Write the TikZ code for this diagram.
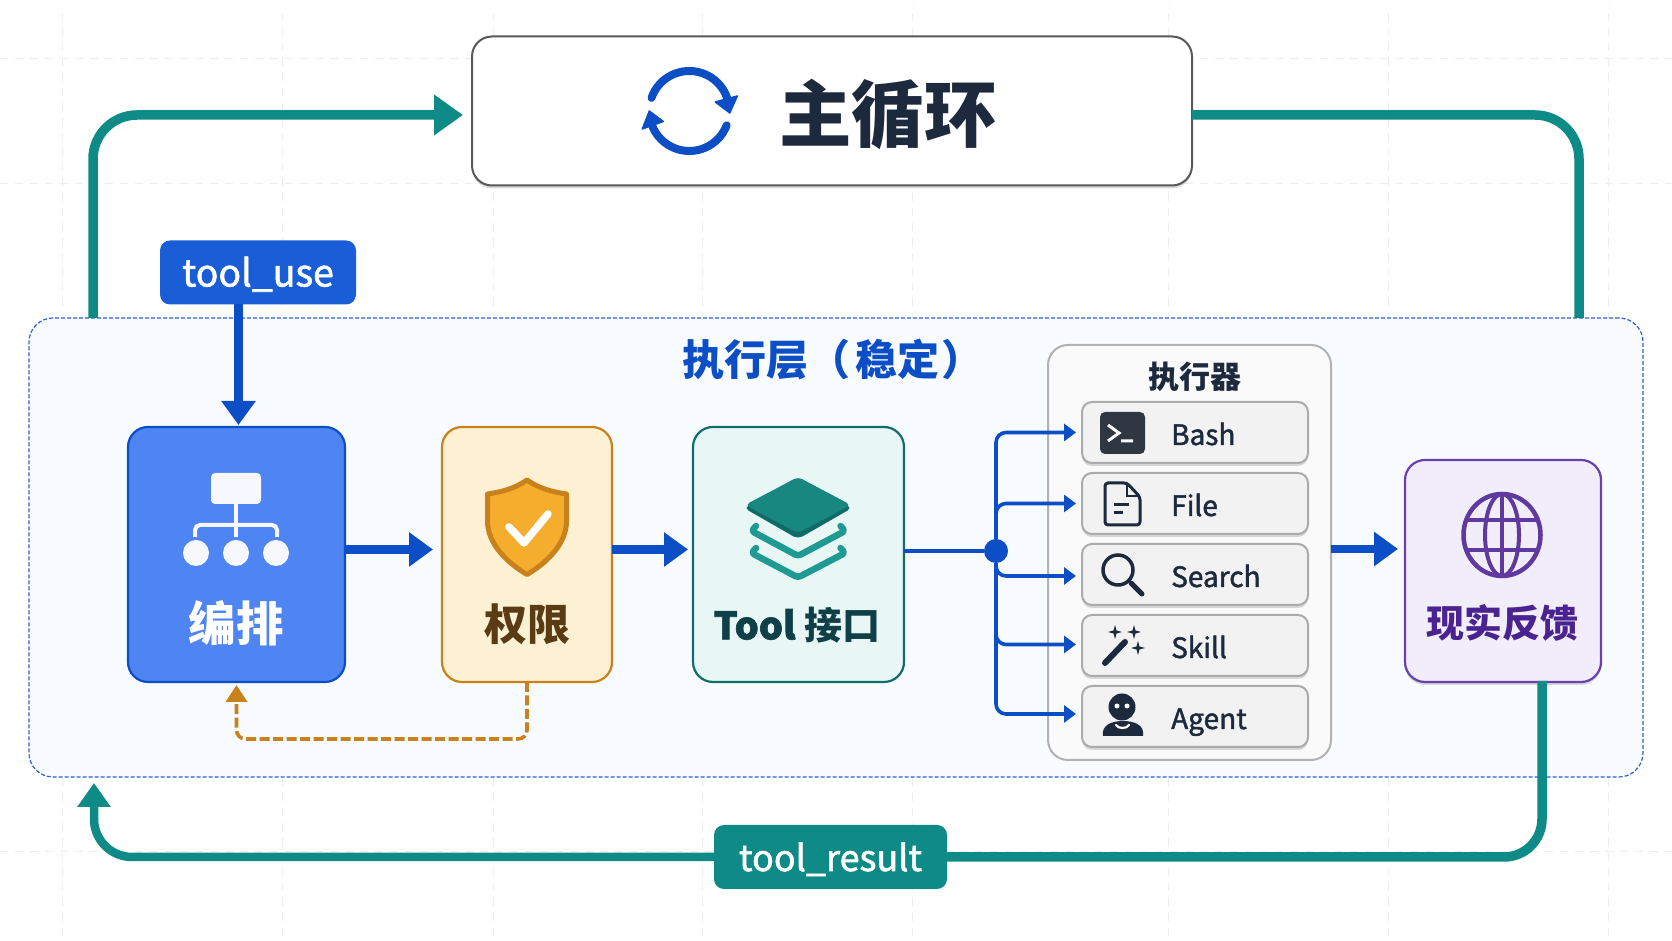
\documentclass[tikz,border=0pt]{standalone}
\usepackage{fontspec}
\setmainfont{Noto Sans CJK SC}
\newfontfamily\medfont[FakeBold=1.6]{Noto Sans CJK SC}
\usetikzlibrary{shapes,arrows,arrows.meta,fit,calc,positioning,shadows}
\usetikzlibrary{backgrounds}
\definecolor{bluedark}{HTML}{0B4EC6}
\definecolor{bluefill}{HTML}{4F84F3}
\definecolor{bluetag}{HTML}{195ED6}
\definecolor{layerline}{HTML}{2F5FD8}
\definecolor{layerfill}{HTML}{F8FBFF}
\definecolor{amber}{HTML}{C8811B}
\definecolor{amberfill}{HTML}{FDF0D3}
\definecolor{amberlight}{HTML}{F5AD2E}
\definecolor{brown}{HTML}{5A3C14}
\definecolor{teal}{HTML}{0F8B87}
\definecolor{tealdark}{HTML}{0F6E6C}
\definecolor{tealfill}{HTML}{E8F7F5}
\definecolor{tealink}{HTML}{0F3F47}
\definecolor{tealface}{HTML}{17877F}
\definecolor{tealside}{HTML}{0E6B68}
\definecolor{tealchev}{HTML}{1F9A92}
\definecolor{purple}{HTML}{6B3FB2}
\definecolor{purplefill}{HTML}{F2EDFB}
\definecolor{purpleink}{HTML}{4A2390}
\definecolor{ink}{HTML}{1D2A3E}
\definecolor{slate}{HTML}{2F3743}
\tikzstyle{soft} = [drop shadow={shadow xshift=0pt, shadow yshift=-3pt, opacity=.14, fill=black}]
\tikzstyle{box} = [draw, rectangle, rounded corners=20pt, line width=2.2pt, outer sep=0pt, minimum height=255pt, align=center]
\tikzstyle{tag} = [rectangle, rounded corners=10pt, outer sep=0pt, text=white, minimum height=64pt, text height=30pt, text depth=2pt]
\tikzstyle{item} = [draw=black!33, fill=black!5, rectangle, rounded corners=10pt, line width=2pt, outer sep=0pt, minimum width=226pt, minimum height=61pt, soft]
\tikzstyle{itemtext} = [inner sep=0pt, anchor=base west, text=ink, font=\medfont\fontsize{28}{34}\selectfont]
\tikzstyle{bigline} = [draw=bluedark, line width=8.5pt, -{Triangle[length=24pt,width=33pt]}]
\tikzstyle{busline} = [draw=bluedark, line width=3.6pt, rounded corners=10pt, -{Triangle[length=12pt,width=17pt]}, shorten >=6pt]
\tikzstyle{loopline} = [draw=teal, line width=9.5pt, rounded corners=44pt]
\tikzstyle{backline} = [draw=amber, line width=3.6pt, rounded corners=9pt, dash pattern=on 10pt off 3.5pt, -{Triangle[length=17pt,width=21pt]}]
\tikzstyle{gridline} = [draw=black!7, line width=.8pt, dash pattern=on 8pt off 7pt]
\begin{document}
\begin{tikzpicture}[x=1pt,y=1pt]
    \useasboundingbox (0,0) rectangle (1672,941);
    \fill[white] (0,0) rectangle (1672,941);
    \foreach \gx in {62,282,493,702,912,1168,1388,1608}
        \path [gridline] (\gx,5) -- (\gx,936);
    \foreach \gy in {883,758,90}
        \path [gridline] (0,\gy) -- (1672,\gy);

    \node [draw=black!65, fill=white, rectangle, rounded corners=20pt, line width=2pt, outer sep=0pt, minimum width=720pt, minimum height=149pt, soft] (main) at (832,830) {};
    \node [text=ink, font=\bfseries\fontsize{72.5}{80}\selectfont, inner sep=0pt] (main_label) at (888,827) {主循环};

    \node [draw=layerline, fill=layerfill, rectangle, rounded corners=24pt, line width=1.2pt, dash pattern=on 4pt off 2pt, outer sep=0pt, minimum width=1614pt, minimum height=459pt] (layer) at (836,393.5) {};
    \node [text=bluedark, font=\bfseries\fontsize{42}{50}\selectfont, inner sep=0pt] (layer_label) at (833,581) {执行层（\kern6pt 稳定\kern2pt）};

    \node [tag, fill=bluetag, minimum width=196pt, font=\medfont\fontsize{37.5}{44}\selectfont] (use) at (258,668.5) {tool\_use};
    \node [tag, fill=teal, minimum width=233pt, font=\medfont\fontsize{36}{44}\selectfont] (result) at (830.5,84) {tool\_result};

    \node [box, draw=bluedark, fill=bluefill, minimum width=217pt] (orch) at (236.5,386.5) {};
    \node [box, draw=amber, fill=amberfill, minimum width=170pt, right=97pt of orch] (perm) {};
    \node [box, draw=tealdark, fill=tealfill, minimum width=211pt, right=81pt of perm] (tool) {};
    \node [draw=black!30, fill=black!2, rectangle, rounded corners=20pt, line width=2pt, outer sep=0pt, minimum width=283pt, minimum height=415pt] (panel) at (1189.5,388.5) {};
    \node [box, draw=purple, fill=purplefill, minimum width=196pt, minimum height=222pt, right=74pt of panel, yshift=-18.5pt, soft] (real) {};

    \node [text=white, font=\bfseries\fontsize{47.5}{54}\selectfont, inner sep=0pt] (orch_label) at (236,318) {编排};
    \node [text=brown, font=\bfseries\fontsize{43}{52}\selectfont, inner sep=0pt] (perm_label) at (527,317) {权限};
    \node [text=tealink, font=\bfseries\fontsize{38}{46}\selectfont, inner sep=0pt] (tool_label) at (797,316) {{\medfont Tool} 接口};
    \node [text=purpleink, font=\bfseries\fontsize{38}{46}\selectfont, inner sep=0pt] (real_label) at (1502,318) {现实反馈};
    \node [text=ink, font=\bfseries\fontsize{31}{38}\selectfont, inner sep=0pt] (panel_label) at (1195,564) {执行器};

    \node [item] (bash) at (1195,508.5) {};
    \node [item, below=10pt of bash] (file) {};
    \node [item, below=10pt of file] (search) {};
    \node [item, below=10pt of search] (skill) {};
    \node [item, below=10pt of skill] (agent) {};
    \node [itemtext] (bash_label) at ([xshift=89pt,yshift=-12.5pt]bash.west) {Bash};
    \node [itemtext] (file_label) at ([xshift=89pt,yshift=-12.5pt]file.west) {File};
    \node [itemtext] (search_label) at ([xshift=89pt,yshift=-12.5pt]search.west) {Search};
    \node [itemtext] (skill_label) at ([xshift=89pt,yshift=-12.5pt]skill.west) {Skill};
    \node [itemtext] (agent_label) at ([xshift=89pt,yshift=-12.5pt]agent.west) {Agent};

    \node [circle, fill=bluedark, minimum size=24pt, inner sep=0pt] (hub) at (996,390) {};
    \coordinate (loop_out) at (93,623);
    \coordinate (loop_in) at (1579,623);
    \coordinate (res_out) at (1542,260);
    \coordinate (res_in) at (94,158);

    % teal loop
    \path [loopline, -{Triangle[length=29pt,width=39pt]}, shorten >=9pt] (loop_out) |- ([yshift=-4pt]main.west);
    \path [loopline] ([yshift=-4pt]main.east) -| (loop_in);
    \path [loopline, rounded corners=38pt] (res_out) |- (result.east);
    \path [loopline, rounded corners=38pt, line width=8.5pt, -{Triangle[length=24pt,width=32pt]}] (result.west) -| (res_in);

    % blue flow
    \path [bigline, shorten >=2pt] ([xshift=2pt]use.south -| orch.north) -- ([xshift=2pt]orch.north);
    \path [bigline, shorten >=9pt] ([yshift=5pt]orch.east) -- ([yshift=5pt]perm.west);
    \path [bigline, shorten >=5pt] ([yshift=5pt]perm.east) -- ([yshift=5pt]tool.west);
    \path [bigline, shorten >=7pt] ([yshift=3.5pt]panel.east) -- ([yshift=3.5pt]panel.east -| real.west);
    \draw [bluedark, line width=3.6pt] ([yshift=3.5pt]tool.east) -- (hub);
    \path [busline] (hub) |- (bash.west);
    \path [busline] (hub) |- (file.west);
    \path [busline] (hub) |- ([yshift=-1.5pt]search.west);
    \path [busline] (hub) |- ([yshift=1pt]skill.west);
    \path [busline] (hub) |- ([yshift=2.5pt]agent.west);
    \path [backline, shorten >=3pt] (perm.south) -- ++(0,-57) -| (orch.south);

    % sync icon
    \begin{scope}[shift={(689.3,830)}]
        \draw [bluedark, line width=8pt, line cap=round] (161:40) arc (161:18:40);
        \draw [bluedark, line width=8pt, line cap=round] (-21:40) arc (-21:-159:40);
        \fill [bluedark, draw=bluedark, line width=1.5pt, line join=round] (48,15) -- (26,9) -- (40.5,-2) -- cycle;
        \fill [bluedark, draw=bluedark, line width=1.5pt, line join=round] (-40,0) -- (-26,-10.5) -- (-47,-18) -- cycle;
    \end{scope}
    % orchestration icon
    \fill [blue!3, rounded corners=4pt] (211,437) rectangle (261,468);
    \draw [blue!3, line width=4pt, rounded corners=5pt] (195,404) -- (195,416) -- (277,416) -- (277,404);
    \draw [blue!3, line width=4pt] (236,437) -- (236,404);
    \foreach \cx in {196,236,276}
        \fill [blue!3] (\cx,388) circle (13);
    % shield icon
    \draw [amber, fill=amberlight, line width=5pt, line join=round] (527,461) .. controls (540,452) and (553,449) .. (566.5,447) -- (566.5,420) .. controls (566.5,396) and (545,377) .. (527,366.5) .. controls (509,377) and (487.5,396) .. (487.5,420) -- (487.5,447) .. controls (501,449) and (514,452) .. (527,461) -- cycle;
    \draw [white, line width=7.5pt, line cap=round, line join=round] (509,414) -- (524,398) -- (548,427);
    % layers icon
    \fill [tealside, rounded corners=5pt] (798,464) -- (852,433) -- (798,402) -- (744,433) -- cycle;
    \fill [tealface, rounded corners=5pt] (798,464) -- (851,436) -- (798,408) -- (745,436) -- cycle;
    \draw [tealchev, line width=6.5pt, line cap=round, line join=round, rounded corners=3pt] (756,415) -- (751.5,410) -- (798,385) -- (845,410) -- (840.5,415);
    \draw [tealchev, line width=6.5pt, line cap=round, line join=round, rounded corners=3pt] (756,393) -- (751.5,388) -- (798,363.5) -- (845,388) -- (840.5,393);
    % globe icon
    \begin{scope}[shift={(1502,406)}]
        \draw [purple!90!black, line width=4.5pt] (0,0) ellipse (38.5 and 41);
        \draw [purple!90!black, line width=4pt] (0,0) ellipse (17 and 41);
        \draw [purple!90!black, line width=4pt] (0,-41) -- (0,41) (-36,15) -- (36,15) (-36,-15) -- (36,-15);
    \end{scope}
    % terminal icon
    \fill [slate, rounded corners=5pt] (1100,487) rectangle (1145,529);
    \draw [white, line width=3pt] (1108,516) -- (1119,508) -- (1108,500) (1121,500) -- (1133,500);
    % file icon
    \draw [ink, line width=3pt, rounded corners=3pt, line join=round] (1127,458) -- (1105,458) -- (1105,416) -- (1140,416) -- (1140,444) -- cycle;
    \draw [ink, line width=2.5pt] (1127,458) -- (1127,445) -- (1140,445);
    \draw [ink, line width=3pt] (1114,436) -- (1129,436) (1114,428) -- (1123,428);
    % search icon
    \draw [ink, line width=3.5pt] (1118,371) circle (15);
    \draw [ink, line width=5pt, line cap=round] (1131,358) -- (1142,347);
    % wand icon
    \draw [ink, line width=6pt, line cap=round] (1105,278) -- (1125,299);
    \foreach \sx/\sy in {1115/309,1134/309,1138/293}
        \fill [ink, shift={(\sx,\sy)}] (0,7) -- (1.5,1.5) -- (7,0) -- (1.5,-1.5) -- (0,-7) -- (-1.5,-1.5) -- (-7,0) -- (-1.5,1.5) -- cycle;
    % agent icon
    \fill [ink] (1122,234) circle (13.5);
    \fill [white] (1117,235) circle (2.5) (1127,235) circle (2.5);
    \fill [ink] (1103,205) .. controls (1101,216) and (1112,220) .. (1123,220) .. controls (1134,220) and (1145,216) .. (1143,205) -- cycle;
    \draw [white, line width=2.2pt, line cap=round] (1116,216) .. controls (1118,212) and (1127,212) .. (1129,216);
\end{tikzpicture}
\end{document}
